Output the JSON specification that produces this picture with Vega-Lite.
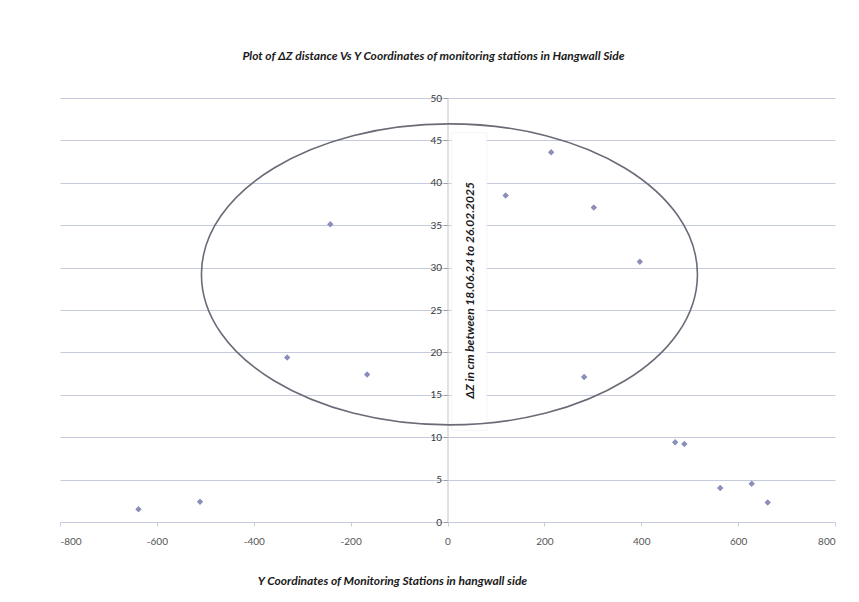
{
  "$schema": "https://vega.github.io/schema/vega-lite/v6.json",
  "description": "Delta Z distance vs Y coordinate of monitoring stations, hangwall side",
  "width": 775,
  "height": 424,
  "autosize": "none",
  "padding": {"left": 60, "top": 98, "right": 24, "bottom": 80},
  "background": "white",
  "config": {"view": {"stroke": null}, "font": "Lato"},
  "title": {
    "text": "Plot of  \u0394Z distance Vs  Y Coordinates of monitoring stations in Hangwall Side",
    "font": "Lato",
    "fontSize": 12,
    "fontStyle": "italic",
    "fontWeight": "bold",
    "color": "#1a1a1a",
    "offset": 30,
    "dx": -14
  },
  "datasets": {
    "stations": [
      {"ycoord": -638, "dz": 1.5},
      {"ycoord": -511, "dz": 2.4},
      {"ycoord": -331, "dz": 19.4},
      {"ycoord": -242, "dz": 35.1},
      {"ycoord": -166, "dz": 17.4},
      {"ycoord": 120, "dz": 38.5},
      {"ycoord": 214, "dz": 43.6},
      {"ycoord": 282, "dz": 17.1},
      {"ycoord": 302, "dz": 37.1},
      {"ycoord": 397, "dz": 30.7},
      {"ycoord": 470, "dz": 9.4},
      {"ycoord": 489, "dz": 9.2},
      {"ycoord": 563, "dz": 4.0},
      {"ycoord": 628, "dz": 4.5},
      {"ycoord": 661, "dz": 2.3}
    ]
  },
  "layer": [
    {
      "data": {"name": "stations"},
      "mark": {"type": "point", "shape": "diamond", "filled": true, "size": 36, "color": "#8b8fba", "opacity": 1},
      "encoding": {
        "x": {
          "field": "ycoord",
          "type": "quantitative",
          "scale": {"domain": [-800, 800], "nice": false, "zero": false},
          "axis": {
            "title": "Y Coordinates of Monitoring Stations in hangwall side",
            "titleFont": "Lato",
            "titleFontSize": 12,
            "titleFontStyle": "italic",
            "titleFontWeight": "bold",
            "titleColor": "#1a1a1a",
            "titleX": 332,
            "titleY": 58,
            "titleBaseline": "middle",
            "titleAnchor": null,
            "titleAlign": "center",
            "values": [-800, -600, -400, -200, 0, 200, 400, 600, 800],
            "labelExpr": "replace(datum.label, '\u2212', '-')",
            "grid": false,
            "domain": false,
            "ticks": true,
            "tickSize": 4,
            "tickColor": "#c9cde0",
            "labelPadding": 10,
            "labelFontSize": 10,
            "labelColor": "#555555",
            "labelFont": "Lato"
          }
        },
        "y": {
          "field": "dz",
          "type": "quantitative",
          "scale": {"domain": [0, 50], "nice": false},
          "axis": {
            "title": null,
            "offset": -387.5,
            "values": [0, 5, 10, 15, 20, 25, 30, 35, 40, 45, 50],
            "grid": true,
            "gridColor": "#c6cadd",
            "gridWidth": 1,
            "domain": true,
            "domainColor": "#c4c4c8",
            "ticks": true,
            "tickSize": 4,
            "tickColor": "#9a9aa0",
            "labelPadding": 2,
            "labelFontSize": 10,
            "labelColor": "#3a3a3a",
            "labelFont": "Lato",
            "zindex": 0
          }
        }
      }
    },
    {
      "data": {"values": [{}]},
      "mark": {"type": "rect", "fill": "white", "stroke": "#f2f2f2", "strokeWidth": 0.8},
      "encoding": {
        "x": {"datum": 9},
        "x2": {"datum": 81},
        "y": {"datum": 10.8},
        "y2": {"datum": 45.9}
      }
    },
    {
      "data": {"values": [{}]},
      "mark": {
        "type": "point",
        "shape": "M -1 0 C -1 -0.335 -0.552 -0.607 0 -0.607 C 0.552 -0.607 1 -0.335 1 0 C 1 0.335 0.552 0.607 0 0.607 C -0.552 0.607 -1 0.335 -1 0 Z",
        "size": 246016,
        "filled": false,
        "stroke": "#6b6b78",
        "strokeWidth": 1.6,
        "opacity": 1
      },
      "encoding": {
        "x": {"datum": 4},
        "y": {"datum": 29.2}
      }
    },
    {
      "data": {"name": "stations"},
      "mark": {"type": "point", "shape": "diamond", "filled": true, "size": 36, "color": "#8b8fba", "opacity": 1},
      "encoding": {
        "x": {"field": "ycoord", "type": "quantitative"},
        "y": {"field": "dz", "type": "quantitative"}
      }
    },
    {
      "data": {"values": [{"label": "\u0394Z in cm  between 18.06.24 to 26.02.2025"}]},
      "mark": {
        "type": "text",
        "angle": 270,
        "font": "Lato",
        "fontSize": 12,
        "fontStyle": "italic",
        "fontWeight": "bold",
        "color": "#1a1a1a",
        "align": "center",
        "baseline": "middle"
      },
      "encoding": {
        "x": {"datum": 46},
        "y": {"datum": 27.3},
        "text": {"field": "label"}
      }
    }
  ]
}
